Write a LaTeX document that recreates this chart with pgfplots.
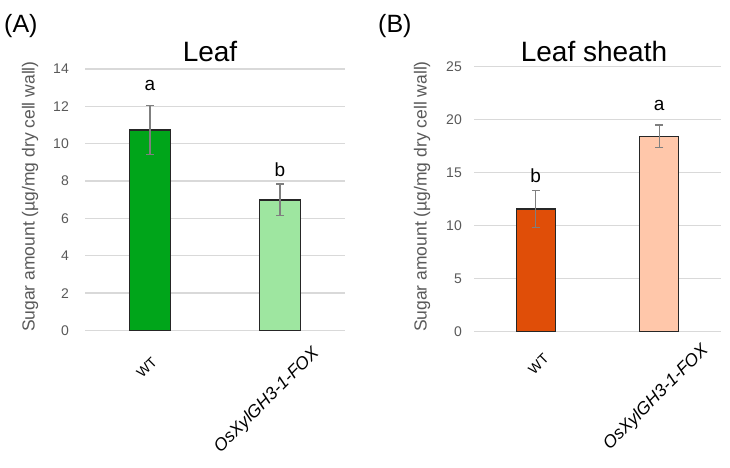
\documentclass[border=0pt]{standalone}
\usepackage{fontspec}
\setmainfont{Liberation Sans}
\usepackage{pgfplots}
\pgfplotsset{compat=1.18}
\definecolor{wtgreen}{HTML}{00A51A}
\definecolor{foxgreen}{HTML}{9EE6A0}
\definecolor{wtorange}{HTML}{E04E08}
\definecolor{foxpeach}{HTML}{FFC7AA}
\definecolor{gridgray}{HTML}{D9D9D9}
\definecolor{errgray}{HTML}{7F7F7F}
\definecolor{labgray}{HTML}{595959}
\definecolor{outline}{HTML}{262626}
\newcommand{\fs}[1]{\fontsize{#1pt}{#1pt}\selectfont}
\pgfplotsset{
  panel/.style={
    scale only axis, anchor=south west,
    xmin=-0.5, xmax=1.5, ymin=0,
    axis line style={draw=none}, major tick length=0pt,
    ymajorgrids, grid style={color=gridgray, line width=1.3pt},
    /pgf/number format/assume math mode=true,
    yticklabel style={font=\fs{14}, text=labgray, inner sep=0pt},
    ylabel style={font=\fs{17.5}, text=labgray, anchor=center},
    xtick={0}, xticklabels={WT},
    extra x ticks={1}, extra x tick labels={\textit{OsXylGH3-1-FOX}},
    clip=false,
  },
  bars/.style={ybar, bar shift=0pt, draw=outline, line width=1.2pt,
    error bars/y dir=both, error bars/y explicit,
    error bars/error bar style={color=errgray, line width=1.3pt},
    error bars/error mark options={rotate=90, color=errgray, line width=1.3pt, mark size=4pt}},
}
\begin{document}
\begin{tikzpicture}[x=1pt,y=1pt]
\useasboundingbox (0,0) rectangle (730,467);
% Panel A
\begin{axis}[panel,
  at={(85pt,136.5pt)}, width=260pt, height=261.5pt,
  ymax=14, ytick={0,2,...,14},
  yticklabel style={xshift=-16pt},
  ylabel={Sugar amount (µg/mg dry cell wall)},
  ylabel style={at={(axis description cs:-0.2115,0.512)}},
  every x tick label/.style={font=\fs{14}, inner sep=0pt, xshift=1pt, yshift=-26pt, rotate=45, anchor=north east},
  extra x tick style={every x tick label/.style={font=\fs{17.5}, inner sep=0pt, xshift=31pt, yshift=-14pt, rotate=45, anchor=north east}},
]
\addplot[bars, fill=wtgreen, bar width=41pt] coordinates {(0,10.73) +- (0,1.32)};
\addplot[bars, fill=foxgreen, bar width=41pt] coordinates {(1,6.99) +- (0,0.85)};
\node[anchor=base, font=\fs{19}] at (axis cs:0,12.87) {a};
\node[anchor=base, font=\fs{19}] at (axis cs:1,8.27) {b};
\end{axis}
\node[anchor=base, font=\fs{28}] at (210,405) {Leaf};
\node[anchor=base west, font=\fs{25}, inner sep=0pt] at (4,434) {(A)};
% Panel B
\begin{axis}[panel,
  at={(474pt,135.3pt)}, width=247pt, height=265pt,
  ymax=25, ytick={0,5,...,25},
  yticklabel style={xshift=-12pt},
  ylabel={Sugar amount (µg/mg dry cell wall)},
  ylabel style={at={(axis description cs:-0.2105,0.51)}},
  every x tick label/.style={font=\fs{14}, inner sep=0pt, xshift=7pt, yshift=-21pt, rotate=45, anchor=north east},
  extra x tick style={every x tick label/.style={font=\fs{17.5}, inner sep=0pt, xshift=41pt, yshift=-10pt, rotate=45, anchor=north east}},
]
\addplot[bars, fill=wtorange, bar width=39pt] coordinates {(0,11.58) +- (0,1.72)};
\addplot[bars, fill=foxpeach, bar width=39pt] coordinates {(1,18.43) +- (0,1.08)};
\node[anchor=base, font=\fs{19}] at (axis cs:0,14.03) {b};
\node[anchor=base, font=\fs{19}] at (axis cs:1,20.9) {a};
\end{axis}
\node[anchor=base, font=\fs{28}] at (594,405) {Leaf sheath};
\node[anchor=base west, font=\fs{25}, inner sep=0pt] at (378,434) {(B)};
\end{tikzpicture}
\end{document}
